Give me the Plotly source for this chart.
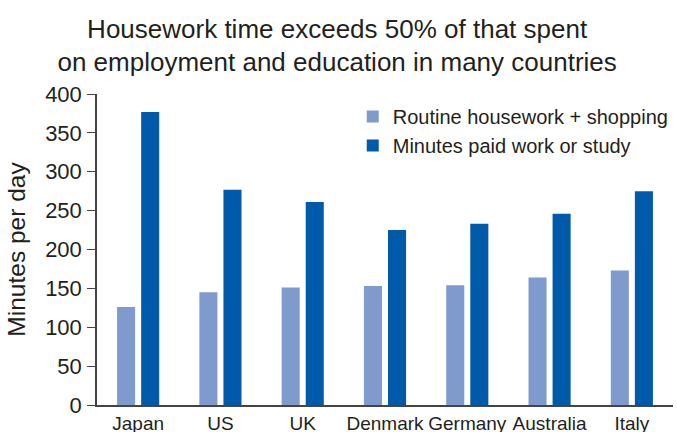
import plotly.graph_objects as go

countries = ["Japan", "US", "UK", "Denmark", "Germany", "Australia", "Italy"]
housework = [126, 145, 151, 153, 154, 164, 173]
paid_work = [377, 277, 261, 225, 233, 246, 275]

LIGHT = "#7f9acd"
DARK = "#005aaa"
TXT = "#231f20"
FONT = "Liberation Sans"

fig = go.Figure()
fig.add_trace(go.Bar(x=countries, y=housework, name="Routine housework + shopping",
                     marker=dict(color=LIGHT, line=dict(width=0))))
fig.add_trace(go.Bar(x=countries, y=paid_work, name="Minutes paid work or study",
                     marker=dict(color=DARK, line=dict(width=0))))

fig.update_layout(
    width=677, height=432,
    margin=dict(l=97, r=4, t=94, b=27, autoexpand=False),
    paper_bgcolor="white", plot_bgcolor="white",
    font=dict(family=FONT, size=20, color=TXT),
    barmode="group", bargap=0.415, bargroupgap=0.25,
    title=dict(text="Housework time exceeds 50% of that spent<br>on employment and education in many countries",
               x=0.498, xanchor="center", y=0.913, yanchor="top",
               font=dict(size=26, color=TXT, family=FONT)),
    showlegend=True,
    legend=dict(x=0.444, xanchor="left", y=0.99, yanchor="top",
                bgcolor="rgba(0,0,0,0)", font=dict(size=20, color=TXT),
                itemwidth=30, tracegroupgap=0),
    xaxis=dict(showline=True, linecolor="#444", linewidth=1.5, ticks="",
               tickangle=0, automargin=False,
               tickfont=dict(size=19, color=TXT), range=[-0.5, 6.5]),
    yaxis=dict(range=[0, 400], dtick=50, showgrid=False, showline=True,
               linecolor="#444", linewidth=1.5, ticks="outside", ticklen=8,
               tickcolor="#444", tickfont=dict(size=22, color=TXT), automargin=False,
               ticklabelstandoff=1,
               title=dict(text="Minutes per day", font=dict(size=24.5, color=TXT), standoff=13),
               zeroline=False),
)

fig.write_html("out.html", config={"displayModeBar": False},
               post_script="document.body.style.margin='0';")
